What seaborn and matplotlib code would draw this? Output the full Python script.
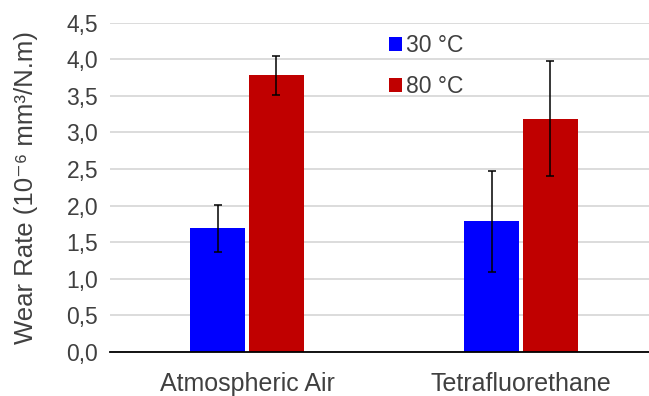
import matplotlib
matplotlib.use("Agg")
import matplotlib.pyplot as plt
import seaborn as sns
import pandas as pd
from matplotlib.ticker import FuncFormatter

categories = ["Atmospheric Air", "Tetrafluorethane"]
temps = ["30 °C", "80 °C"]
wear_30 = [1.69, 1.79]
wear_80 = [3.78, 3.19]
err_30 = [0.32, 0.69]
err_80 = [0.27, 0.78]
colors = ["#0000FF", "#C00000"]

sns.set_theme(style="white")
plt.rcParams["font.family"] = ["Liberation Sans", "DejaVu Sans"]
txt = "#404040"

df = pd.DataFrame({
    "Environment": categories * 2,
    "Temp": [temps[0]] * 2 + [temps[1]] * 2,
    "Wear": wear_30 + wear_80,
})

fig = plt.figure(figsize=(6.49, 3.96), dpi=100)
ax = fig.add_axes([110 / 649, 1 - 352 / 396, 1 - 110 / 649, (352 - 22.7) / 396])

sns.barplot(data=df, x="Environment", y="Wear", hue="Temp", order=categories,
            hue_order=temps, palette=colors, width=0.43, gap=0.07,
            errorbar=None, saturation=1, ax=ax, zorder=3, linewidth=0)

errs = [err_30, err_80]
for cont, e in zip(ax.containers, errs):
    xs = [p.get_x() + p.get_width() / 2 for p in cont]
    ys = [p.get_height() for p in cont]
    ax.errorbar(xs, ys, yerr=e, fmt="none", ecolor="black", elinewidth=1.1,
                capsize=3, capthick=1.1, zorder=4)

ax.set_ylim(0, 4.5)
ax.set_xlim(-0.5, 1.467)
ax.set_yticks([i * 0.5 for i in range(10)])
ax.yaxis.set_major_formatter(FuncFormatter(lambda v, p: f"{v:.1f}".replace(".", ",")))
ax.grid(axis="y", color="#D9D9D9", linewidth=1.3, zorder=0)
ax.grid(axis="x", visible=False)
for s in ["top", "right", "left"]:
    ax.spines[s].set_visible(False)
ax.spines["bottom"].set_color("black")
ax.spines["bottom"].set_linewidth(1.3)
ax.spines["bottom"].set_zorder(5)
ax.tick_params(axis="both", length=0, colors=txt)
ax.tick_params(axis="y", labelsize=16.5, pad=8.5)
ax.tick_params(axis="x", labelsize=18, pad=14.5)
ax.set_xlabel("")
ax.set_ylabel("Wear Rate (10⁻⁶ mm³/N.m)", fontsize=18.5, color=txt)
ax.yaxis.set_label_coords(-0.133, 0.5)

leg = ax.legend(loc="upper left", bbox_to_anchor=((378 - 110) / 539, 1.0), frameon=False,
                fontsize=16.5, handlelength=0.55, handleheight=0.55, handletextpad=0.15,
                labelspacing=0.8, borderaxespad=0.1)
for t in leg.get_texts():
    t.set_color(txt)

fig.savefig("out.png", dpi=100)
